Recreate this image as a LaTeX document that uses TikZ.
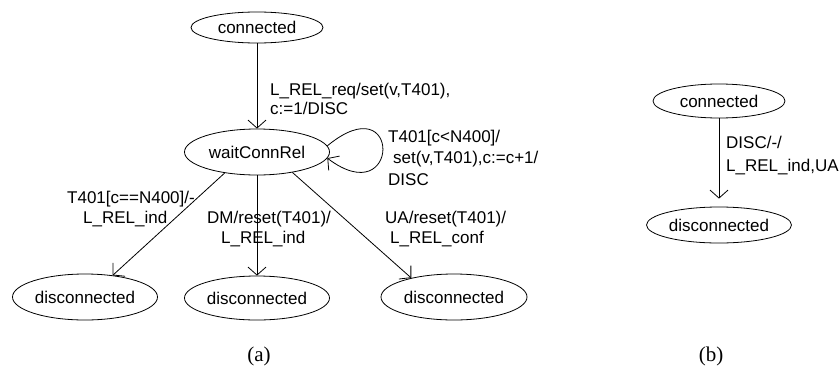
\documentclass[tikz,border=0pt]{standalone}
\usepackage{fontspec}
\setmainfont{Liberation Sans}
\newfontfamily\capfont{Liberation Serif}
\usetikzlibrary{arrows.meta,shapes.geometric}
\begin{document}
\begin{tikzpicture}[x=1pt,y=-1pt,
  state/.style={draw, ellipse, line width=0.8pt, inner sep=0pt, font=\fontsize{17}{20}\selectfont},
  tr/.style={draw, line width=0.8pt, -{Straight Barb[length=8pt,width=18pt]}},
  lbl/.style={anchor=north west, inner sep=0pt, align=left},
  captxt/.style={font=\capfont\fontsize{21}{24}\selectfont, anchor=base, inner sep=0pt}]
\useasboundingbox (0,0) rectangle (840,367);
% (a)
\node[state, minimum width=132pt, minimum height=31pt] (ac) at (257,27.5) {connected};
\node[state, minimum width=145pt, minimum height=46pt] (aw) at (257,152) {waitConnRel};
\node[state, minimum width=145pt, minimum height=46pt] (ad1) at (85,297) {disconnected};
\node[state, minimum width=145pt, minimum height=44pt] (ad2) at (257,298) {disconnected};
\node[state, minimum width=146pt, minimum height=46pt] (ad3) at (454,297) {disconnected};
\draw[tr] (ac.south) -- (aw.north);
\draw[tr] (aw.213) -- (ad1.38);
\draw[tr] (aw.south) -- (ad2.north);
\draw[tr] (aw.330) -- (ad3.156);
\draw[tr] (aw.5) .. controls +(75,-62) and +(73,55) .. (aw.-5);
\node[lbl, font=\fontsize{17}{19}\selectfont] (l1) at (270,82.6) {L\_REL\_req/set(v,T401),\\c:=1/DISC};
\node[lbl, font=\fontsize{17}{21.5}\selectfont] (l2) at (388,129.6) {T401[c<N400]/\\\hspace*{5pt}set(v,T401),c:=c+1/\\DISC};
\node[lbl, font=\fontsize{17}{20}\selectfont] (l3) at (67,190.6) {T401[c==N400]/-\\\hspace*{16pt}L\_REL\_ind};
\node[lbl, font=\fontsize{17}{20}\selectfont] (l4) at (207,210.6) {DM/reset(T401)/\\\hspace*{14pt}L\_REL\_ind};
\node[lbl, font=\fontsize{17}{20}\selectfont] (l5) at (385,210.6) {UA/reset(T401)/\\\hspace*{5pt}L\_REL\_conf};
\node[captxt] (ca) at (259,361) {(a)};
% (b)
\node[state, minimum width=132pt, minimum height=34pt] (bc) at (719,101) {connected};
\node[state, minimum width=145pt, minimum height=36pt] (bd) at (719,225) {disconnected};
\draw[tr, shorten >=8pt] (bc.south) -- (bd.north);
\node[lbl, font=\fontsize{17}{23}\selectfont] (l6) at (726,135.6) {DISC/-/\\L\_REL\_ind,UA};
\node[captxt] (cb) at (711,361) {(b)};
\end{tikzpicture}
\end{document}
